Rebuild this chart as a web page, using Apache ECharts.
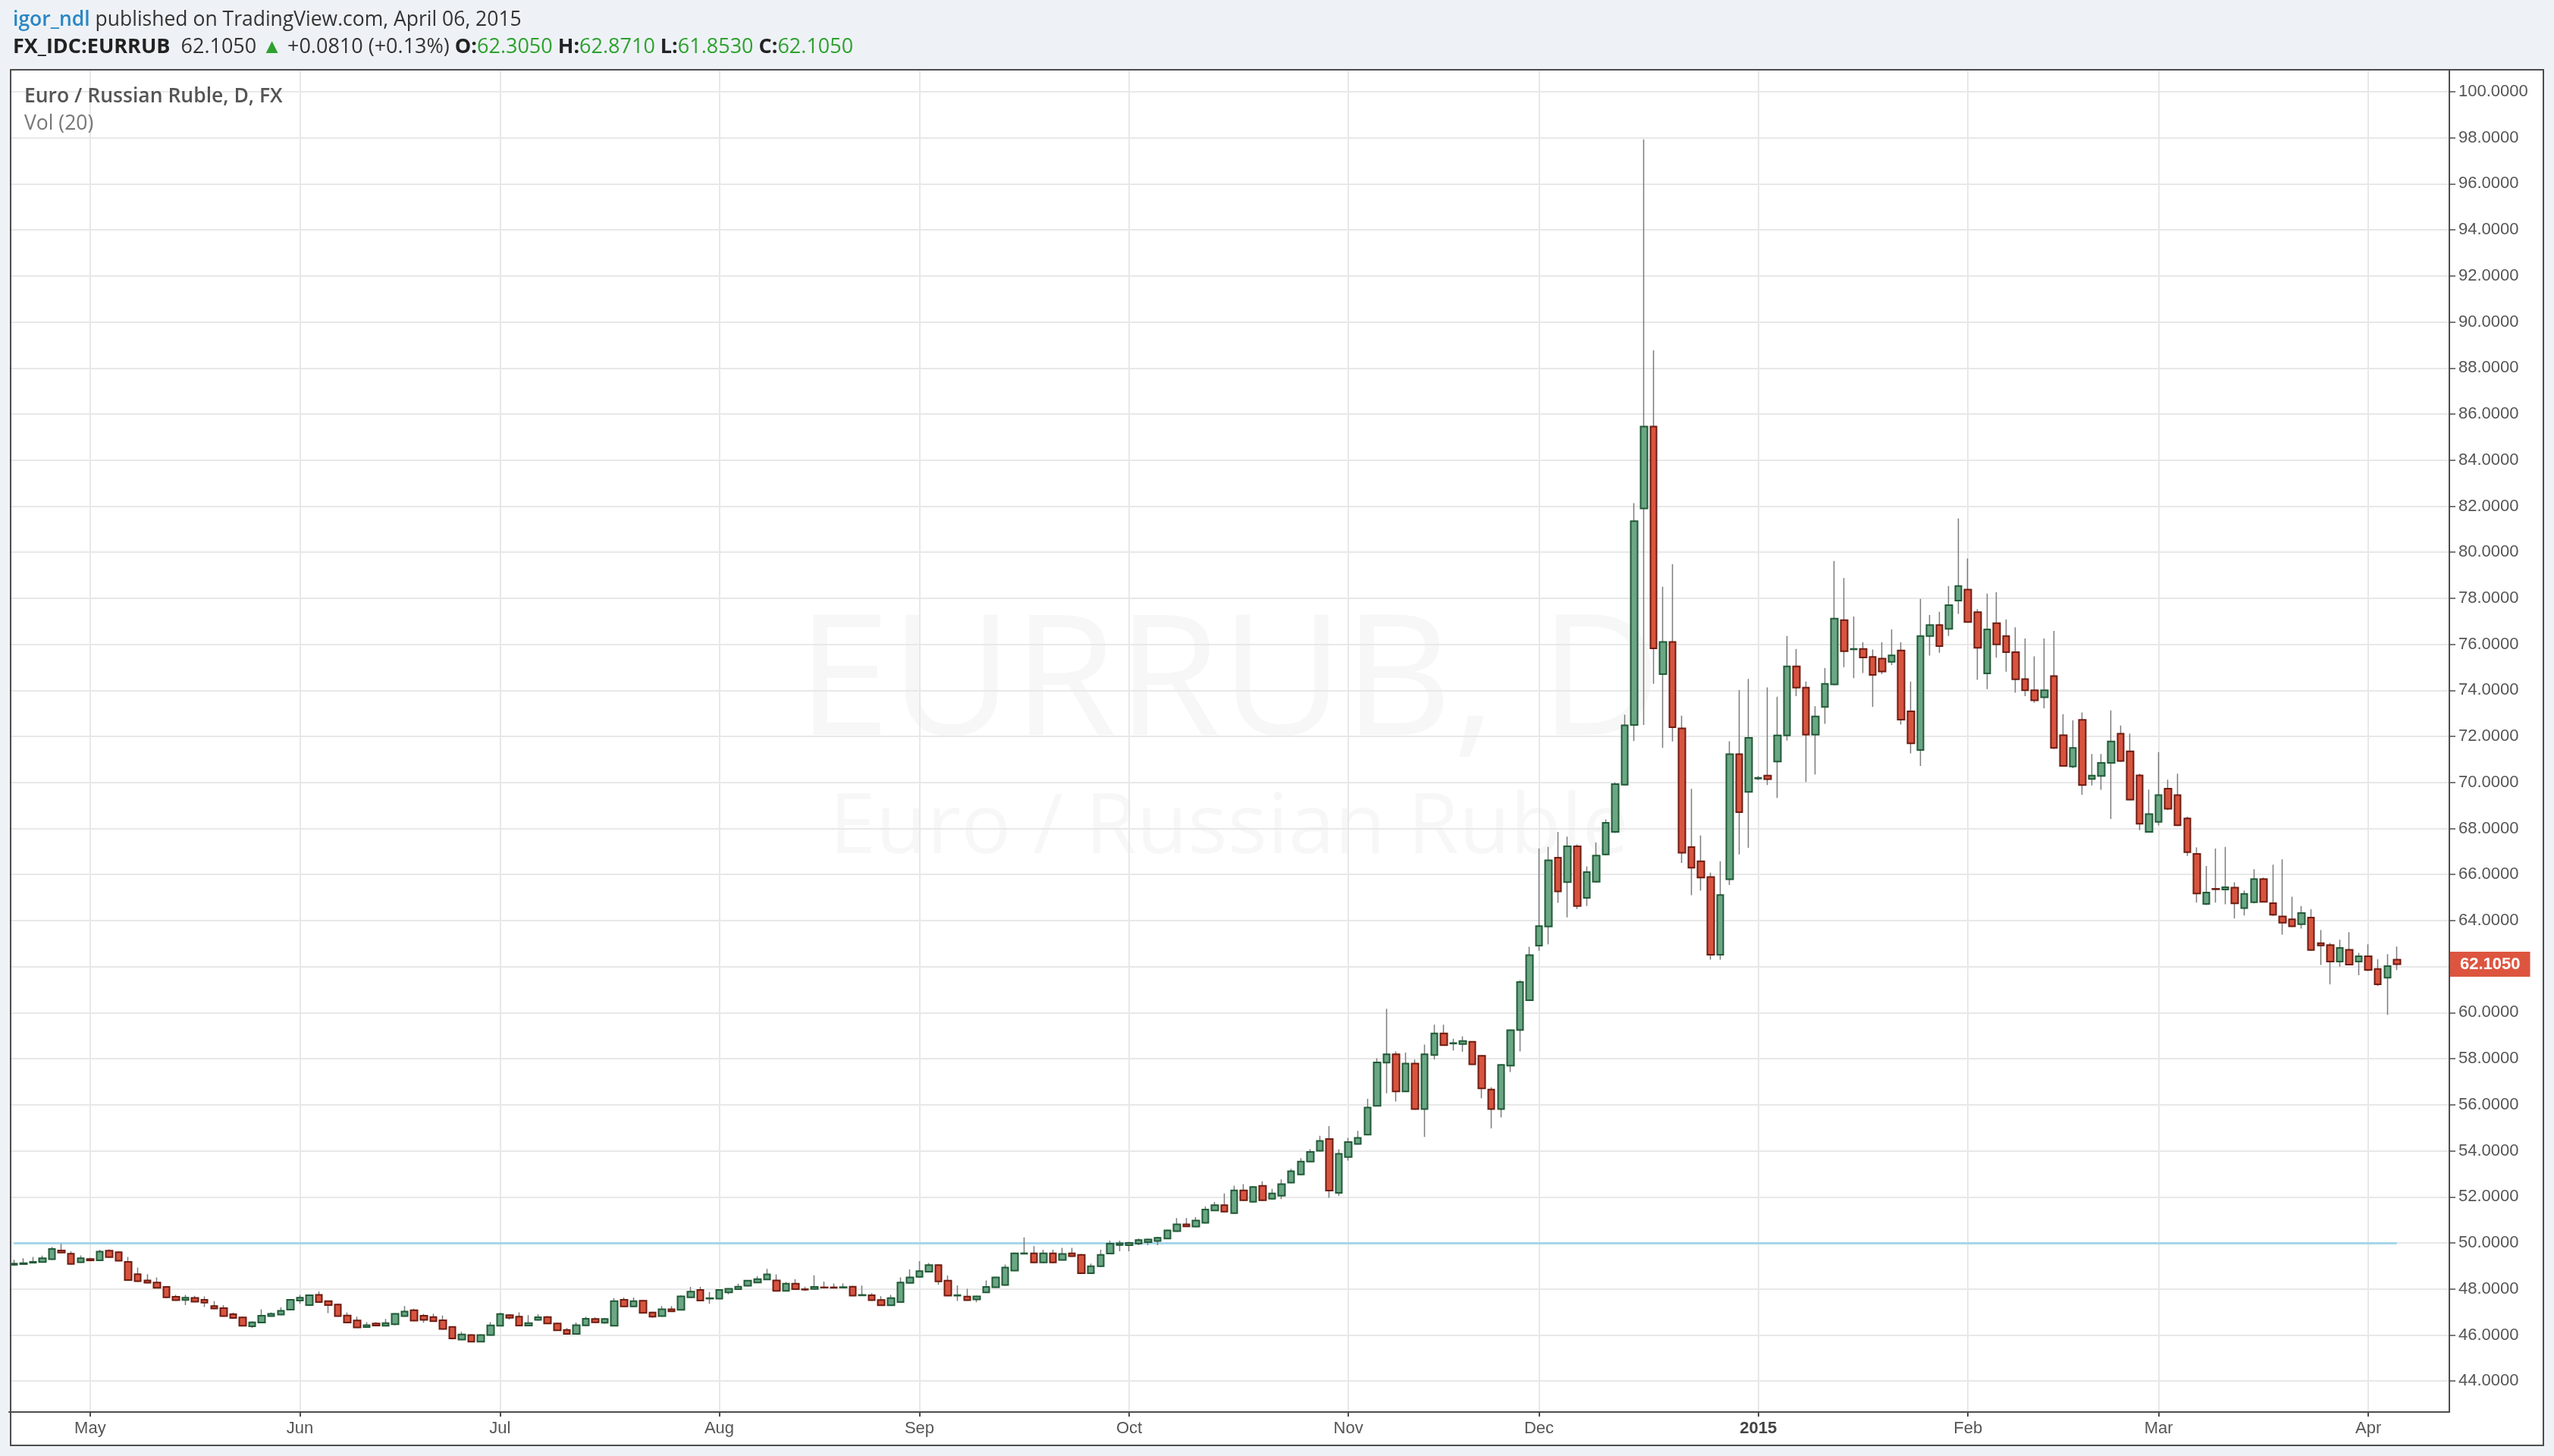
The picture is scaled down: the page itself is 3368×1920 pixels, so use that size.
<!DOCTYPE html>
<html>
<head>
<meta charset="utf-8">
<script src="https://cdn.jsdelivr.net/npm/echarts@6/dist/echarts.min.js"></script>
<style>
html,body{margin:0;padding:0;background:#eef2f6;}
#chart{width:3368px;height:1920px;}
</style>
</head>
<body>
<div id="chart"></div>
<script>
// ---------------- DATA ----------------
const tradingDays = [
  ['2014-04', [21,22,23,24,25,28,29,30]],
  ['2014-05', [1,2,5,6,7,8,9,12,13,14,15,16,19,20,21,22,23,26,27,28,29,30]],
  ['2014-06', [2,3,4,5,6,9,10,11,12,13,16,17,18,19,20,23,24,25,26,27,30]],
  ['2014-07', [1,2,3,4,7,8,9,10,11,14,15,16,17,18,21,22,23,24,25,28,29,30,31]],
  ['2014-08', [1,4,5,6,7,8,11,12,13,14,15,18,19,20,21,22,25,26,27,28,29]],
  ['2014-09', [1,2,3,4,5,8,9,10,11,12,15,16,17,18,19,22,23,24,25,26,29,30]],
  ['2014-10', [1,2,3,6,7,8,9,10,13,14,15,16,17,20,21,22,23,24,27,28,29,30,31]],
  ['2014-11', [3,4,5,6,7,10,11,12,13,14,17,18,19,20,21,24,25,26,27,28]],
  ['2014-12', [1,2,3,4,5,8,9,10,11,12,15,16,17,18,19,22,23,24,25,26,29,30,31]],
  ['2015-01', [1,2,5,6,7,8,9,12,13,14,15,16,19,20,21,22,23,26,27,28,29,30]],
  ['2015-02', [2,3,4,5,6,9,10,11,12,13,16,17,18,19,20,23,24,25,26,27]],
  ['2015-03', [2,3,4,5,6,9,10,11,12,13,16,17,18,19,20,23,24,25,26,27,30,31]],
  ['2015-04', [1,2,3,6]]
];

const openPrices = [
  49.05,49.08,49.14,49.17,49.29,49.67,49.53,49.16,49.30,49.24,
  49.66,49.60,49.18,48.64,48.37,48.28,48.09,47.66,47.52,47.61,
  47.53,47.26,47.17,46.90,46.76,46.38,46.54,46.82,46.89,47.10,
  47.50,47.30,47.74,47.47,47.32,46.85,46.63,46.34,46.50,46.40,
  46.47,46.82,47.08,46.84,46.78,46.64,46.35,45.80,46.00,45.71,
  46.00,46.40,46.86,46.80,46.41,46.66,46.78,46.50,46.22,46.05,
  46.42,46.70,46.53,46.40,47.53,47.24,47.49,46.98,46.82,47.12,
  47.09,47.64,47.96,47.58,47.58,47.85,47.99,48.14,48.28,48.41,
  48.37,47.92,48.23,47.99,48.00,48.07,48.07,48.06,48.10,47.72,
  47.73,47.52,47.29,47.43,48.26,48.53,48.75,49.04,48.36,47.71,
  47.67,47.55,47.85,48.07,48.17,48.80,49.53,49.55,49.15,49.55,
  49.26,49.55,49.48,48.68,48.99,49.54,49.91,49.90,49.97,50.03,
  50.08,50.19,50.51,50.81,50.71,50.87,51.41,51.64,51.29,52.28,
  51.79,52.48,51.92,52.05,52.62,52.97,53.53,54.00,54.51,52.17,
  53.73,54.30,54.70,55.95,57.83,58.19,56.58,57.79,55.81,58.16,
  59.10,58.66,58.64,58.74,58.13,56.66,55.81,57.70,59.25,60.54,
  62.91,63.74,66.73,65.67,67.23,64.99,65.69,66.87,67.85,69.90,
  72.50,81.90,85.46,74.70,76.10,72.35,67.19,66.58,65.89,62.52,
  65.79,71.23,69.59,70.17,70.30,70.91,72.04,75.04,74.12,72.08,
  73.28,74.26,77.05,75.78,75.80,75.45,75.38,75.24,75.73,73.09,
  71.41,76.36,76.84,76.67,77.90,78.38,77.40,74.74,76.92,76.36,
  75.66,74.49,74.00,73.70,74.62,72.05,70.69,72.72,70.15,70.28,
  70.85,72.12,71.35,70.31,67.85,68.29,69.73,69.45,68.44,66.90,
  64.72,65.38,65.35,65.43,64.54,64.80,65.80,64.76,64.18,64.06,
  63.84,64.13,63.02,62.94,62.22,62.73,62.22,62.45,61.90,61.52,
  62.305
];
const highPrices = [
  49.27,49.33,49.39,49.45,49.83,49.96,49.64,49.46,49.36,49.70,
  49.72,49.63,49.39,48.93,48.64,48.50,48.12,47.74,47.74,47.70,
  47.68,47.47,47.30,46.98,46.79,46.60,47.12,46.98,47.20,47.56,
  47.74,47.75,47.89,47.50,47.35,46.98,46.80,46.56,46.56,46.70,
  46.94,47.26,47.14,46.92,46.92,46.85,46.38,46.14,46.03,46.03,
  46.56,46.97,46.90,46.99,46.86,46.90,46.82,46.53,46.30,46.54,
  46.80,46.76,46.73,47.60,47.63,47.63,47.52,47.01,47.26,47.26,
  47.72,48.09,48.09,47.87,47.98,48.03,48.23,48.38,48.55,48.87,
  48.63,48.30,48.43,48.10,48.59,48.32,48.24,48.24,48.14,48.15,
  47.82,47.69,47.74,48.50,48.85,49.21,49.13,49.06,48.58,48.15,
  48.01,47.70,48.37,48.52,49.06,49.58,50.24,49.86,49.70,49.70,
  49.79,49.79,49.52,49.10,49.70,50.10,50.10,50.05,50.19,50.19,
  50.26,50.56,51.08,51.08,51.12,51.59,51.78,52.15,52.49,52.55,
  52.45,52.68,52.35,52.76,53.22,53.68,54.08,54.65,55.07,54.07,
  54.56,54.87,56.26,58.02,60.17,58.32,58.27,57.96,58.61,59.48,
  59.48,58.87,58.97,58.76,58.15,56.76,57.75,59.26,61.41,62.86,
  67.13,67.20,67.85,67.65,67.31,66.35,67.39,68.40,70.00,72.94,
  82.13,97.93,88.77,78.50,79.48,72.90,69.72,67.70,66.08,66.58,
  71.79,74.01,74.50,70.28,74.13,73.72,76.36,75.80,74.38,73.31,
  74.97,79.62,78.88,77.21,76.09,75.77,76.09,76.65,76.09,74.38,
  77.97,77.27,77.41,78.53,81.46,79.73,77.53,78.20,78.26,77.08,
  76.74,76.25,75.48,76.25,76.58,72.97,72.70,73.04,71.24,71.24,
  73.13,72.47,72.12,70.38,69.69,71.32,70.12,70.38,68.52,67.18,
  66.37,67.13,67.20,65.66,65.31,66.23,65.87,66.43,66.66,65.04,
  64.63,64.49,63.59,63.03,63.17,63.50,62.60,62.97,62.32,62.54,
  62.871
];
const lowPrices = [
  49.02,49.06,49.12,49.15,49.27,49.56,49.07,49.14,49.20,49.22,
  49.36,49.21,48.36,48.32,48.25,48.03,47.62,47.49,47.30,47.43,
  47.22,47.13,46.80,46.70,46.37,46.30,46.52,46.80,46.87,47.08,
  47.36,47.28,47.41,46.95,46.80,46.52,46.31,46.32,46.39,46.38,
  46.42,46.80,46.60,46.53,46.58,46.24,45.81,45.78,45.69,45.69,
  45.98,46.38,46.67,46.39,46.39,46.64,46.48,46.18,46.03,46.03,
  46.40,46.53,46.48,46.38,47.22,47.22,46.94,46.75,46.80,47.01,
  47.07,47.62,47.48,47.36,47.56,47.77,47.97,48.12,48.26,48.39,
  47.90,47.90,47.97,47.92,47.98,48.04,48.03,48.04,47.69,47.70,
  47.49,47.27,47.27,47.41,48.24,48.51,48.73,48.18,47.69,47.48,
  47.49,47.42,47.83,48.05,48.15,48.78,49.51,49.13,49.13,49.13,
  49.24,49.40,48.66,48.66,48.97,49.52,49.64,49.64,49.90,49.90,
  49.90,50.17,50.49,50.70,50.69,50.85,51.39,51.34,51.27,51.83,
  51.77,51.83,51.90,51.90,52.60,52.95,53.51,53.98,51.96,52.04,
  53.57,54.28,54.68,55.93,56.50,56.14,56.56,55.79,54.60,57.96,
  58.57,58.36,58.30,57.74,56.28,54.97,55.45,57.42,58.32,60.52,
  62.69,62.97,64.77,64.14,64.50,64.63,65.67,66.85,67.80,69.88,
  71.80,72.50,74.28,71.50,71.78,66.50,65.10,65.30,62.30,62.30,
  65.55,66.87,67.16,70.10,69.89,69.33,71.82,73.75,70.02,70.35,
  72.55,74.23,75.01,74.53,74.75,73.28,74.70,75.10,72.51,71.26,
  70.72,75.51,75.63,76.36,77.32,76.95,74.46,74.05,75.42,74.81,
  73.90,73.75,73.46,73.22,71.45,70.70,70.62,69.46,69.87,69.68,
  68.41,70.90,69.23,67.93,67.83,68.13,68.80,68.11,66.81,64.78,
  64.67,64.78,64.71,64.09,64.22,64.75,64.80,64.20,63.39,63.73,
  63.65,62.70,62.07,61.23,62.00,62.07,61.63,61.80,61.16,59.91,
  61.853
];
const closePrices = [
  49.10,49.12,49.18,49.33,49.74,49.58,49.09,49.33,49.24,49.62,
  49.38,49.23,48.39,48.34,48.27,48.05,47.64,47.51,47.62,47.45,
  47.41,47.15,46.82,46.74,46.40,46.55,46.84,46.92,47.05,47.53,
  47.62,47.73,47.43,47.30,46.82,46.54,46.33,46.43,46.41,46.52,
  46.92,47.02,46.62,46.66,46.60,46.26,45.85,46.02,45.71,46.00,
  46.42,46.91,46.75,46.41,46.52,46.77,46.50,46.20,46.05,46.43,
  46.71,46.55,46.70,47.47,47.24,47.47,46.96,46.80,47.12,47.03,
  47.68,47.88,47.50,47.60,47.96,48.01,48.10,48.36,48.43,48.63,
  47.92,48.23,47.99,47.97,48.09,48.06,48.05,48.08,47.71,47.74,
  47.51,47.29,47.60,48.28,48.50,48.77,49.04,48.33,47.71,47.73,
  47.51,47.68,48.09,48.50,48.93,49.55,49.55,49.15,49.55,49.15,
  49.52,49.42,48.68,48.99,49.48,49.97,49.98,50.00,50.12,50.15,
  50.22,50.54,50.81,50.72,50.97,51.45,51.64,51.36,52.28,51.85,
  52.43,51.85,52.15,52.55,53.11,53.53,53.95,54.43,52.27,53.87,
  54.38,54.56,55.88,57.84,58.19,56.58,57.79,55.81,58.19,59.10,
  58.59,58.68,58.77,57.76,56.71,55.81,57.73,59.24,61.33,62.50,
  63.76,66.62,65.27,67.23,64.63,66.11,66.82,68.25,69.93,72.48,
  81.35,85.46,75.82,76.10,72.40,66.95,66.30,65.87,62.52,65.11,
  71.23,68.71,71.94,70.20,70.14,72.04,75.04,74.12,72.08,72.87,
  74.28,77.12,75.70,75.80,75.43,74.67,74.82,75.52,72.73,71.70,
  76.36,76.84,75.92,77.70,78.53,76.97,75.85,76.65,76.00,75.66,
  74.48,74.00,73.57,74.00,71.50,70.72,71.50,69.89,70.30,70.85,
  71.78,70.93,69.25,68.21,68.63,69.45,68.86,68.14,66.97,65.18,
  65.22,65.36,65.45,64.75,65.16,65.80,64.81,64.25,63.91,63.75,
  64.33,62.72,62.92,62.22,62.81,62.09,62.45,61.86,61.23,62.024,
  62.105
];

const yTickValues = [44,46,48,50,52,54,56,58,60,62,64,66,68,70,72,74,76,78,80,82,84,86,88,90,92,94,96,98,100];
const monthNames = ['Jan','Feb','Mar','Apr','May','Jun','Jul','Aug','Sep','Oct','Nov','Dec'];
const referenceLevel = 50;          // horizontal drawing line
const symbolName = 'FX_IDC:EURRUB';
const instrumentTitle = 'Euro / Russian Ruble, D, FX';
const volLabel = 'Vol (20)';
const watermark1 = 'EURRUB, D';
const watermark2 = 'Euro / Russian Ruble';
const author = 'igor_ndl';
const publishedText = ' published on TradingView.com, April 06, 2015';

// ---------------- LAYOUT / STYLE ----------------
const EMPTY_SLOTS = 5;
const Y_MIN = 42.655, Y_MAX = 100.955;
const GRID = {left: 12, right: 138, top: 92, bottom: 58};
const UP_FILL = '#6ba685', UP_BORDER = '#215a37';
const DN_FILL = '#d8543f', DN_BORDER = '#6e1c12';
const WICK = '#7b7b7b';
const GRIDLINE = '#e8e8e8';
const AXIS = '#4d4d4d';
const TXT = '#555';
const HEAD1_FONT = 26.5;
const HEAD2_FONT = 27;

// ---------------- BUILD ----------------
const dates = [];
tradingDays.forEach(([ym, days]) => days.forEach(d => dates.push(ym + '-' + String(d).padStart(2, '0'))));
const n = dates.length;
const last = n - 1;
const categories = dates.concat(Array.from({length: EMPTY_SLOTS}, (_, k) => 'pad' + k));
const isMonthStart = categories.map((d, i) => i > 0 && i < n && d.slice(0, 7) !== categories[i - 1].slice(0, 7));
const monthInterval = (idx) => !!isMonthStart[idx];
const monthLabel = (d) => d.slice(5, 7) === '01' ? '{y|' + d.slice(0, 4) + '}' : monthNames[+d.slice(5, 7) - 1];

const wickData = dates.map((_, i) => [openPrices[i], closePrices[i], lowPrices[i], highPrices[i]]);
const bodyData = dates.map((_, i) => [openPrices[i], closePrices[i],
  Math.min(openPrices[i], closePrices[i]), Math.max(openPrices[i], closePrices[i])]);

const lastClose = closePrices[last];
const prevClose = closePrices[last - 1];
const chg = lastClose - prevClose;
const pct = chg / prevClose * 100;
const signed = (v, d) => (v >= 0 ? '+' : '') + v.toFixed(d);
const yLabelValues = yTickValues.filter(v => Math.abs(v - lastClose) > 0.8);

const headerLine2 = '{b|' + symbolName + '}  ' + lastClose.toFixed(4) + ' {g|\u25B2} ' + signed(chg, 4) +
  ' (' + signed(pct, 2) + '%) {b|O:}{g|' + openPrices[last].toFixed(4) + '} {b|H:}{g|' + highPrices[last].toFixed(4) +
  '} {b|L:}{g|' + lowPrices[last].toFixed(4) + '} {b|C:}{g|' + lastClose.toFixed(4) + '}';

const chart = echarts.init(document.getElementById('chart'), null, {renderer: 'canvas', width: 3368, height: 1920});

const option = {
  animation: false,
  backgroundColor: '#eef2f6',
  grid: {left: GRID.left, right: GRID.right, top: GRID.top, bottom: GRID.bottom, containLabel: false},
  graphic: [
    {type: 'rect', z: -20, silent: true, shape: {x: 14, y: 92, width: 3340, height: 1814}, style: {fill: '#ffffff'}},
    {type: 'rect', z: 100, silent: true, shape: {x: 14, y: 92, width: 3340, height: 1814}, style: {fill: 'none', stroke: AXIS, lineWidth: 2}},
    {type: 'text', z: -5, silent: true, x: 1621, y: 906,
      style: {text: watermark1, fill: 'rgba(0,0,0,0.03)', font: '222px "Open Sans"', align: 'center', verticalAlign: 'middle'}},
    {type: 'text', z: -5, silent: true, x: 1621, y: 1094,
      style: {text: watermark2, fill: 'rgba(0,0,0,0.03)', font: '110px "Open Sans"', align: 'center', verticalAlign: 'middle'}},
    {type: 'text', z: 10, silent: true, x: 17, y: 26,
      style: {text: '{a|' + author + '}' + publishedText, fill: '#333', font: HEAD1_FONT + 'px "Open Sans"', verticalAlign: 'middle',
        rich: {a: {fill: '#2b86c5', fontFamily: 'Open Sans', fontSize: HEAD1_FONT, fontWeight: 600}}}},
    {type: 'text', z: 10, silent: true, x: 17, y: 62,
      style: {text: headerLine2, fill: '#333', font: HEAD2_FONT + 'px "Open Sans"', verticalAlign: 'middle',
        rich: {b: {fill: '#222', fontFamily: 'Open Sans', fontSize: HEAD2_FONT, fontWeight: 'bold'},
               g: {fill: '#2ea12e', fontFamily: 'Open Sans', fontSize: HEAD2_FONT}}}},
    {type: 'text', z: 10, silent: true, x: 32, y: 127,
      style: {text: instrumentTitle, fill: TXT, font: '600 26.5px "Open Sans"', verticalAlign: 'middle'}},
    {type: 'text', z: 10, silent: true, x: 32, y: 163,
      style: {text: volLabel, fill: '#777', font: '26.5px "Open Sans"', verticalAlign: 'middle'}}
  ],
  xAxis: {
    type: 'category',
    data: categories,
    boundaryGap: true,
    axisLine: {show: true, lineStyle: {color: AXIS, width: 2}},
    axisTick: {show: true, alignWithLabel: true, interval: monthInterval, length: 6, lineStyle: {color: AXIS, width: 2}},
    axisLabel: {interval: monthInterval, formatter: (v) => monthLabel(v), color: TXT, fontSize: 22,
      fontFamily: 'Liberation Sans', margin: 11, rich: {y: {fontWeight: 'bold', fontSize: 22, color: '#444', fontFamily: 'Liberation Sans'}}},
    splitLine: {show: true, alignWithLabel: true, interval: monthInterval, lineStyle: {color: GRIDLINE, width: 2}}
  },
  yAxis: [
    {
      type: 'value', position: 'right', min: Y_MIN, max: Y_MAX, scale: true,
      axisLine: {show: true, lineStyle: {color: AXIS, width: 2}},
      axisTick: {show: true, customValues: yTickValues, length: 8, lineStyle: {color: AXIS, width: 1.5}},
      axisLabel: {customValues: yLabelValues, formatter: (v) => v.toFixed(4), color: TXT, fontSize: 22,
        fontFamily: 'Liberation Sans', margin: 12},
      splitLine: {show: true, lineStyle: {color: GRIDLINE, width: 2}}
    },
    {
      type: 'value', position: 'right', min: Y_MIN, max: Y_MAX, scale: true,
      axisLine: {show: false}, axisTick: {show: false}, splitLine: {show: false},
      axisLabel: {customValues: [lastClose], formatter: (v) => v.toFixed(4), color: '#fff', fontWeight: 'bold',
        fontSize: 22, fontFamily: 'Liberation Sans', backgroundColor: '#dd553f', padding: [6, 13, 5, 13], margin: 1}
    }
  ],
  series: [
    {
      name: 'wicks', type: 'candlestick', z: 2, barWidth: 2, data: wickData,
      itemStyle: {color: WICK, color0: WICK, borderColor: WICK, borderColor0: WICK, borderWidth: 1.5},
      markLine: {
        silent: true, z: 1, symbol: ['none', 'none'], label: {show: false},
        lineStyle: {color: '#a5d6ea', width: 3, type: 'solid'},
        emphasis: {disabled: true},
        data: [[{coord: [dates[0], referenceLevel]}, {coord: [dates[last], referenceLevel]}]]
      }
    },
    {
      name: 'bodies', type: 'candlestick', z: 3, barWidth: 9, data: bodyData,
      itemStyle: {color: UP_FILL, color0: DN_FILL, borderColor: UP_BORDER, borderColor0: DN_BORDER, borderWidth: 2}
    }
  ]
};
chart.setOption(option);
</script>
</body>
</html>
